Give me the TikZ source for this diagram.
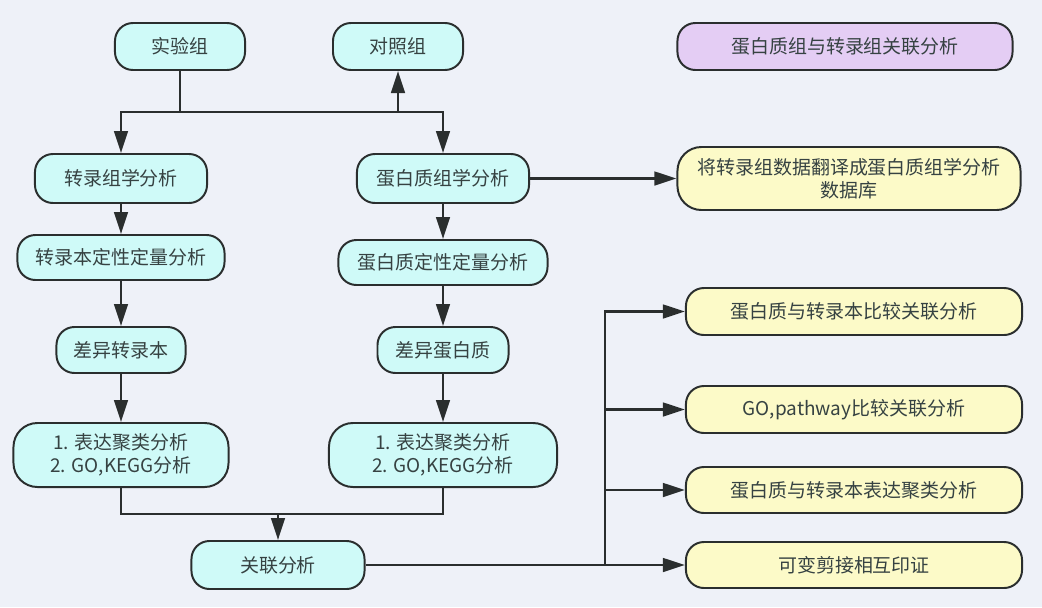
\documentclass[tikz,border=0pt]{standalone}
\usepackage{fontspec}
\setmainfont{Noto Sans CJK SC}
\usepackage{tikz}
\usetikzlibrary{arrows.meta,positioning,calc}
\usepackage{xcolor}
\definecolor{bgblue}{HTML}{EEF1F8}
\definecolor{boxcyan}{HTML}{CFFAF8}
\definecolor{boxyellow}{HTML}{FCFAC8}
\definecolor{boxpurple}{HTML}{E4CDF4}
\definecolor{edgegray}{HTML}{2A2E2E}
\definecolor{txtgray}{HTML}{364242}

\begin{document}
\begin{tikzpicture}[x=0.025cm, y=-0.025cm,
    box/.style={draw=edgegray, line width=1.4pt, rounded corners=0.45cm, inner sep=0pt,
                align=center, text=txtgray, font=\fontsize{13.5}{16.5}\selectfont,
                minimum height=1.175cm},
    cyanbox/.style={box, fill=boxcyan},
    yellowbox/.style={box, fill=boxyellow},
    purplebox/.style={box, fill=boxpurple},
    conn/.style={draw=edgegray, line width=1.8pt},
    flow/.style={conn, -{Triangle[length=5.5mm,width=3.4mm]}}]
            % background
            \fill[bgblue] (0,0) rectangle (1042,607);
            \useasboundingbox (0,0) rectangle (1042,607);

            % groups
            \node[cyanbox, minimum width=3.25cm] (exp) at (180,46.5) {实验组};
            \node[cyanbox, minimum width=3.25cm] (ctl) at (398,46.5) {对照组};
            \node[purplebox, minimum width=8.375cm] (title) at (845,46.5) {蛋白质组与转录组关联分析};

            % transcriptome column
            \node[cyanbox, minimum width=4.3cm, minimum height=1.225cm] (tra) at (121,178.5) {转录组学分析};
            \node[cyanbox, minimum width=5.175cm, minimum height=1.125cm] (traq) at (121,257.5) {转录本定性定量分析};
            \node[cyanbox, minimum width=3.225cm, minimum height=1.15cm] (tdiff) at (121,350) {差异转录本};
            \node[cyanbox, minimum width=5.375cm, minimum height=1.6cm, rounded corners=0.6cm] (tclu) at (121,455) {1. 表达聚类分析\\2. GO,KEGG分析};

            % proteome column
            \node[cyanbox, minimum width=4.3cm, minimum height=1.225cm] (pro) at (443,178.5) {蛋白质组学分析};
            \node[cyanbox, minimum width=5.225cm, minimum height=1.125cm] (proq) at (443,262.5) {蛋白质定性定量分析};
            \node[cyanbox, minimum width=3.275cm, minimum height=1.15cm] (pdiff) at (443,350) {差异蛋白质};
            \node[cyanbox, minimum width=5.7cm, minimum height=1.6cm, rounded corners=0.6cm] (pclu) at (443,455) {1. 表达聚类分析\\2. GO,KEGG分析};

            \node[cyanbox, minimum width=4.325cm, minimum height=1.2cm] (assoc) at (278,565) {关联分析};

            % right side results
            \node[yellowbox, minimum width=8.575cm, minimum height=1.575cm, rounded corners=0.6cm] (db) at (849,178.5) {将转录组数据翻译成蛋白质组学分析\\数据库};
            \node[yellowbox, minimum width=8.4cm] (r1) at (854,311.5) {蛋白质与转录本比较关联分析};
            \node[yellowbox, minimum width=8.4cm] (r2) at (854,409.5) {GO,pathway比较关联分析};
            \node[yellowbox, minimum width=8.4cm, minimum height=1.15cm] (r3) at (854,490) {蛋白质与转录本表达聚类分析};
            \node[yellowbox, minimum width=8.4cm, minimum height=1.15cm] (r4) at (854,565) {可变剪接相互印证};

            % split below the groups
            \coordinate (split) at (180,112);
            \draw[conn] (exp) -- (split);
            \draw[flow] (split) -| (tra);
            \draw[flow] (split) -| (pro);
            \draw[flow] (split) -| (ctl);

            % down the columns
            \draw[flow] (tra) -- (traq);
            \draw[flow] (traq) -- (tdiff);
            \draw[flow] (tdiff) -- (tclu);
            \draw[flow] (pro) -- (proq);
            \draw[flow] (proq) -- (pdiff);
            \draw[flow] (pdiff) -- (pclu);
            \draw[flow] (pro) -- (db);

            % merge into association
            \coordinate (merge) at (278,514);
            \draw[conn] (tclu) |- (merge);
            \draw[conn] (pclu) |- (merge);
            \draw[flow] (merge) -- (assoc);

            % fan out to results
            \coordinate (bus) at (605,565);
            \draw[flow] (assoc) -- (r4);
            \draw[flow] (bus) |- (r1);
            \draw[flow] (bus) |- (r2);
            \draw[flow] (bus) |- (r3);
        \end{tikzpicture}
\end{document}
